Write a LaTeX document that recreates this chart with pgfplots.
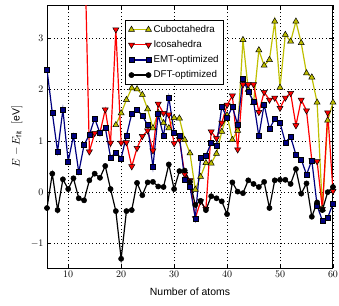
\documentclass[border=0pt]{standalone}
\usepackage{pgfplots}
\pgfplotsset{compat=1.18}
\usepackage{fontspec}
\setmainfont{Liberation Sans}
\definecolor{cubyel}{rgb}{0.75,0.75,0}
\definecolor{navyb}{rgb}{0,0,0.5}
\begin{document}
\begin{tikzpicture}
\useasboundingbox (-47bp,-38bp) rectangle (292bp,268bp);
\begin{axis}[
 scale only axis, width=286bp, height=263bp,
 xmin=6, xmax=60, ymin=-1.48, ymax=3.65,
 xtick={10,20,30,40,50,60}, ytick={-1,0,1,2,3},
 grid=major, major grid style={black, line width=0.5pt, dash pattern=on 1pt off 2.5pt},
 tick align=inside, major tick length=4bp, tick style={black, line width=0.6pt},
 axis line style={line width=1pt},
 tick label style={font=\fontsize{10}{12}\selectfont},
 xlabel={Number of atoms}, ylabel={$E-E_{\mathrm{fit}}\;\;[\mathrm{eV}]$},
 label style={font=\fontsize{10.5}{12}\selectfont},
 xlabel style={at={(axis description cs:0.5,-0.09)}, anchor=center},
 ylabel style={at={(axis description cs:-0.105,0.5)}, anchor=center},
 legend style={at={(axis description cs:0.273,0.943)}, anchor=north west, draw=black, line width=0.8pt, font=\fontsize{9.8}{11}\selectfont, inner xsep=3pt, inner ysep=3pt, row sep=2.6pt},
 legend cell align=left,
 legend image code/.code={\draw[#1] plot coordinates {(0bp,0bp) (17bp,0bp)};},
 every axis plot/.append style={line width=1.2pt},
]
\addplot[color=cubyel, mark=triangle*, mark size=3.5bp, mark options={fill=cubyel, draw=black, line width=0.5pt}] table {
19 1.31
20 1.54
21 1.80
22 2.03
23 2.01
24 1.90
25 1.62
26 1.25
27 1.55
28 1.35
29 1.25
30 1.45
31 1.44
32 1.02
33 0.76
34 0.05
35 0.30
36 0.57
37 0.56
38 0.75
39 1.18
40 1.50
41 1.02
42 1.20
43 2.97
44 2.00
45 1.74
46 2.77
47 2.47
48 2.58
49 3.33
50 2.04
51 3.07
52 2.94
53 3.33
54 2.91
55 2.32
56 2.24
57 1.75
58 -0.33
59 1.40
60 1.75
};
\addlegendentry{Cuboctahedra}
\addplot[color=red, mark=triangle*, mark size=3.5bp, mark options={rotate=180, fill=red, draw=black, line width=0.5pt}] table {
13 5.3
14 0.79
15 1.15
16 1.16
17 1.61
18 0.96
19 3.17
20 0.96
21 0.97
22 0.50
23 0.86
24 1.09
25 1.20
26 0.81
27 1.72
28 1.54
29 1.51
30 0.95
31 1.03
32 0.35
33 0.23
34 -0.51
35 -0.18
36 -0.33
37 1.18
38 1.05
39 1.35
40 1.70
41 1.88
42 0.83
43 2.10
44 2.10
45 2.10
46 1.56
47 1.95
48 1.80
49 1.84
50 1.64
51 1.84
52 1.93
53 1.30
54 1.80
55 1.59
56 0.62
57 0.60
58 -0.33
59 1.55
60 0.02
};
\addlegendentry{Icosahedra}
\addplot[color=navyb, mark=square*, mark size=2.5bp, mark options={fill=navyb, draw=black, line width=0.5pt}] table {
6 2.39
7 1.55
8 0.79
9 1.61
10 0.60
11 1.10
12 0.39
13 0.92
14 1.12
15 1.44
16 1.15
17 1.26
18 0.68
19 0.77
20 0.66
21 1.10
22 1.53
23 1.61
24 1.49
25 1.31
26 0.49
27 1.52
28 1.09
29 1.85
30 1.16
31 1.09
32 0.25
33 0.11
34 -0.51
35 0.68
36 0.71
37 0.96
38 0.90
39 1.67
40 1.45
41 1.66
42 1.32
43 2.21
44 1.96
45 1.77
46 1.09
47 1.71
48 1.23
49 1.43
50 1.35
51 0.97
52 1.08
53 0.73
54 0.64
55 0.34
56 0.62
57 -0.26
58 -0.56
59 -0.50
60 -0.22
};
\addlegendentry{EMT-optimized}
\addplot[color=black, mark=*, mark size=2.6bp, mark options={fill=black, draw=black, line width=0.5pt}] table {
6 -0.31
7 0.36
8 -0.35
9 0.25
10 0.06
11 0.27
12 -0.12
13 -0.16
14 0.23
15 0.36
16 0.28
17 0.51
18 0.06
19 -0.37
20 -1.30
21 -0.37
22 -0.35
23 0.18
24 -0.06
25 0.19
26 0.20
27 0.11
28 0.10
29 0.54
30 0.06
31 0.41
32 0.42
33 0.20
34 -0.25
35 -0.17
36 -0.35
37 -0.08
38 -0.12
39 -0.18
40 -0.43
41 0.19
42 0.01
43 -0.02
44 0.23
45 0.16
46 0.10
47 0.20
48 -0.31
49 0.23
50 0.24
51 0.24
52 0.16
53 0.45
54 -0.03
55 0.17
56 -0.48
57 -0.20
58 -0.35
59 0.00
60 0.10
};
\addlegendentry{DFT-optimized}
\end{axis}
\end{tikzpicture}
\end{document}
